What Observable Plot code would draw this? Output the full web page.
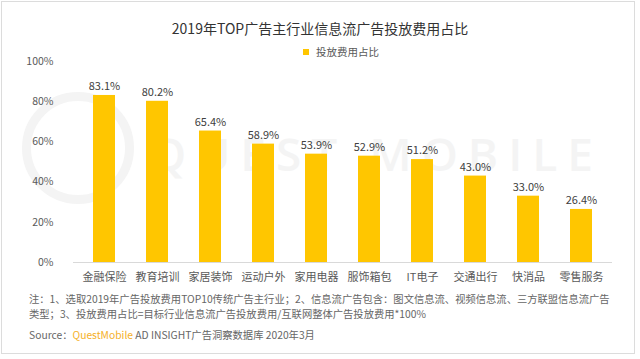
<!DOCTYPE html>
<html>
<head>
<meta charset="utf-8">
<script src="https://cdn.jsdelivr.net/npm/d3@7"></script>
<script src="https://cdn.jsdelivr.net/npm/@observablehq/plot@0.6"></script>
<style>
  html, body { margin: 0; padding: 0; background: #fff; }
  body { width: 640px; height: 359px; position: relative; overflow: hidden;
         font-family: "Noto Sans CJK SC", "Noto Sans", sans-serif; }
  #frame { position: absolute; left: 1px; top: 1px; width: 634px; height: 353px;
           border: 1px solid #dcdcdc; box-sizing: border-box; }
  #wm-ring { position: absolute; left: 22px; top: 92px; width: 112px; height: 112px;
             border: 9px solid #f4f4f4; border-radius: 50%; box-sizing: border-box; }
  #wm-text { position: absolute; left: 150px; top: 122px; font-size: 46px; letter-spacing: 10px;
             color: #f4f4f4; font-family: "Open Sans", sans-serif; font-weight: 600; white-space: nowrap; }
  #title { position: absolute; left: 0; width: 640px; top: 18px; text-align: center;
           font-size: 14px; color: #333; line-height: 20px; }
  #legend { position: absolute; left: 303px; top: 45px; font-size: 10.5px; color: #595959;
            line-height: 14px; white-space: nowrap; }
  #legend i { display: inline-block; width: 6px; height: 6px; background: #FFC600;
              margin-right: 7px; vertical-align: 1px; }
  #chart { position: absolute; left: 0; top: 50px; }
  .note { position: absolute; left: 29px; font-size: 10.3px; color: #666; white-space: nowrap; line-height: 14px; }
  .note b { font-weight: normal; color: #F5B027; }
</style>
</head>
<body>
<div id="frame"></div>
<div id="wm-ring"></div>
<div id="wm-text">QUEST MOBILE</div>
<div id="title">2019年TOP广告主行业信息流广告投放费用占比</div>
<div id="legend"><i></i>投放费用占比</div>
<div id="chart"></div>
<div class="note" style="top:292px">注：1、选取2019年广告投放费用TOP10传统广告主行业；2、信息流广告包含：图文信息流、视频信息流、三方联盟信息流广告</div>
<div class="note" style="top:307px">类型；3、投放费用占比=目标行业信息流广告投放费用/互联网整体广告投放费用*100%</div>
<div class="note" style="top:328px">Source：<b>QuestMobile</b> AD INSIGHT广告洞察数据库 2020年3月</div>
<script>
const categories = ["金融保险", "教育培训", "家居装饰", "运动户外", "家用电器", "服饰箱包", "IT电子", "交通出行", "快消品", "零售服务"];
const values = [83.1, 80.2, 65.4, 58.9, 53.9, 52.9, 51.2, 43.0, 33.0, 26.4];
const yTicks = [0, 20, 40, 60, 80, 100];

const data = categories.map((c, i) => ({category: c, value: values[i]}));

const chart = Plot.plot({
  width: 640,
  height: 242,
  marginTop: 11,
  marginBottom: 30,
  marginLeft: 73,
  marginRight: 28,
  style: {fontFamily: '"Noto Sans CJK SC", "Noto Sans", sans-serif', background: "transparent", overflow: "visible"},
  x: {domain: categories, paddingInner: 0.59, paddingOuter: 0.295, label: null},
  y: {domain: [0, 100], label: null},
  marks: [
    Plot.axisY({ticks: yTicks, tickSize: 0, tickPadding: 20, tickFormat: d => d + "%",
                fontSize: 10.5, fill: "#595959", label: null}),
    Plot.axisX({tickSize: 0, tickPadding: 11, fontSize: 11, fill: "#595959", label: null}),
    Plot.barY(data, {x: "category", y: "value", fill: "#FFC600"}),
    Plot.ruleY([0], {stroke: "#d9d9d9"}),
    Plot.text(data, {x: "category", y: "value", text: d => d.value.toFixed(1) + "%",
                     dy: -9, fontSize: 11, fill: "#404040"})
  ]
});
document.getElementById("chart").appendChild(chart);
</script>
</body>
</html>
